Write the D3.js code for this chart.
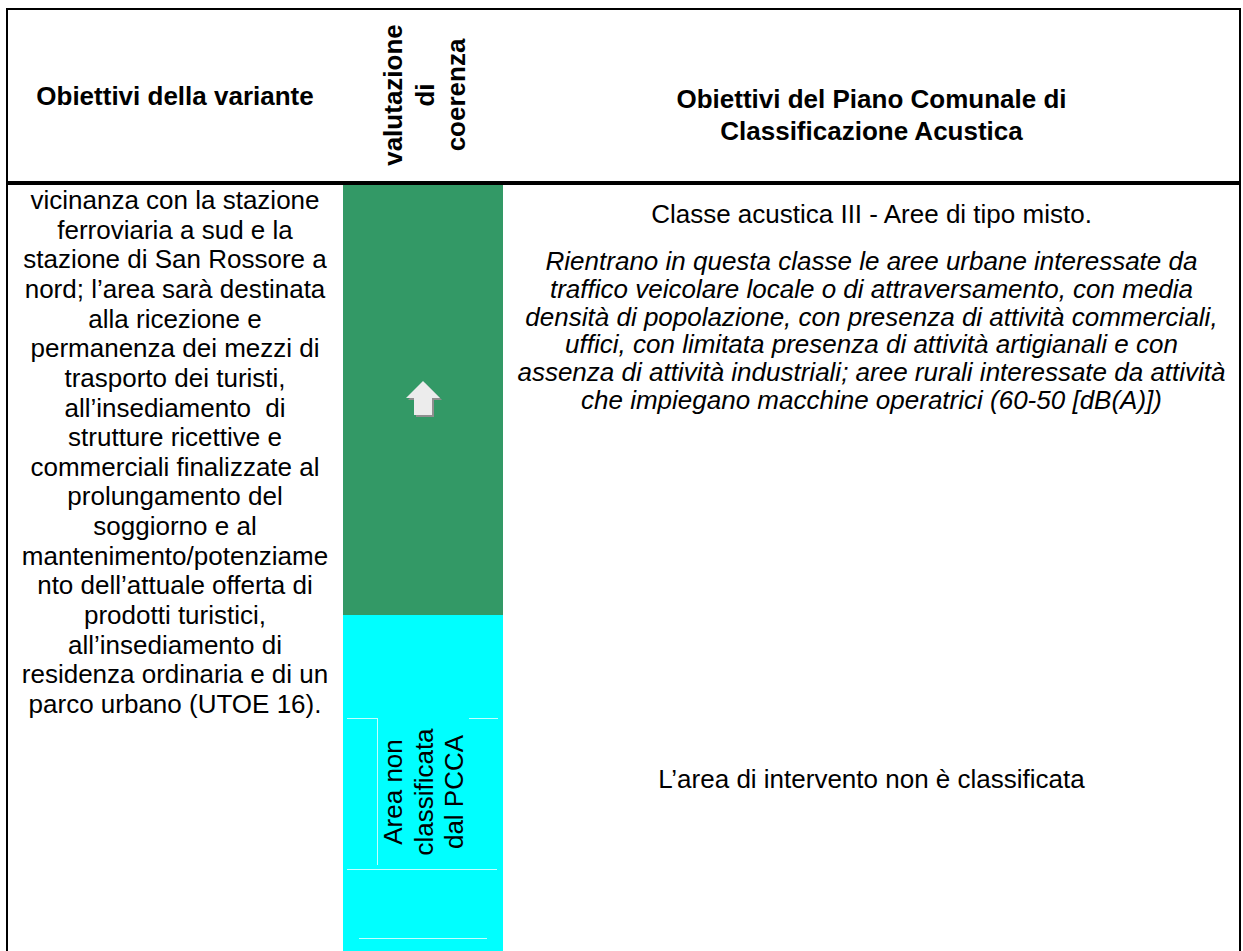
<!DOCTYPE html>
<html><head><meta charset="utf-8">
<script src="https://cdn.jsdelivr.net/npm/d3@7"></script>
<style>
html,body{margin:0;padding:0;background:#fff;}
svg{display:block;}
text{font-family:"Liberation Sans",Arial,Helvetica,sans-serif;fill:#000;white-space:pre;}
</style></head><body>
<svg id="chart" width="1243" height="951"></svg>
<script>
// ---------- data ----------
const headerLeftLines = ["Obiettivi della variante"];
const headerMidLines = ["valutazione", "di", "coerenza"];
const headerRightLines = ["Obiettivi del Piano Comunale di", "Classificazione Acustica"];

const obiettiviLines = [
  "vicinanza con la stazione",
  "ferroviaria a sud e la",
  "stazione di San Rossore a",
  "nord; l’area sarà destinata",
  "alla ricezione e",
  "permanenza dei mezzi di",
  "trasporto dei turisti,",
  "all’insediamento  di",
  "strutture ricettive e",
  "commerciali finalizzate al",
  "prolungamento del",
  "soggiorno e al",
  "mantenimento/potenziame",
  "nto dell’attuale offerta di",
  "prodotti turistici,",
  "all’insediamento di",
  "residenza ordinaria e di un",
  "parco urbano (UTOE 16)."
];

const evaluationRows = ["coerente", "non classificata"];
const evaluationLabels = [[], ["Area non", "classificata", "dal PCCA"]];

const pccaTitle = "Classe acustica III - Aree di tipo misto.";
const pccaDescription = [
  "Rientrano in questa classe le aree urbane interessate da",
  "traffico veicolare locale o di attraversamento, con media",
  "densità di popolazione, con presenza di attività commerciali,",
  "uffici, con limitata presenza di attività artigianali e con",
  "assenza di attività industriali; aree rurali interessate da attività",
  "che impiegano macchine operatrici (60-50 [dB(A)])"
];
const pccaNote = "L’area di intervento non è classificata";

// ---------- layout ----------
const svg = d3.select("#chart");
const FS = 26;
const colL = 7, colM0 = 343, colM1 = 503, colR = 1240;
const headTop = 9, headBot = 183;
const rowColors = {"coerente": "#339966", "non classificata": "#00ffff"};
const rowY = d3.scaleOrdinal().domain(evaluationRows).range([[185, 615], [615, 951]]);

// evaluation column bands
svg.selectAll("rect.band").data(evaluationRows).join("rect")
  .attr("class", "band")
  .attr("x", colM0).attr("width", colM1 - colM0)
  .attr("y", d => rowY(d)[0]).attr("height", d => rowY(d)[1] - rowY(d)[0])
  .attr("fill", d => rowColors[d]);

// faint text-box outline inside the cyan cell
const faint = svg.append("g").attr("stroke", "#c4ffff").attr("stroke-width", 1).attr("fill", "none");
[[347, 718.5, 377, 718.5], [469, 718.5, 498, 718.5], [377.5, 718, 377.5, 865],
 [347, 869.5, 497, 869.5], [359, 938.5, 487, 938.5]].forEach(l =>
  faint.append("line").attr("x1", l[0]).attr("y1", l[1]).attr("x2", l[2]).attr("y2", l[3]));

// arrow (up) in the green cell
const arrowCx = (colM0 + colM1) / 2, arrowCy = (rowY("coerente")[0] + rowY("coerente")[1]) / 2 - 2;
const arrowPts = [[0, -17], [17, 0], [9, 0], [9, 17], [-9, 17], [-9, 0], [-17, 0]];
const line = d3.line();
svg.append("path")
  .attr("d", line(arrowPts.map(p => [arrowCx + p[0] + 2, arrowCy + p[1] + 2])) + "Z")
  .attr("fill", "#8f8f8f");
svg.append("path")
  .attr("d", line(arrowPts.map(p => [arrowCx + p[0], arrowCy + p[1]])) + "Z")
  .attr("fill", "#ececec");

// borders
const borders = svg.append("g").attr("stroke", "#000");
borders.append("line").attr("x1", 6).attr("x2", 1241).attr("y1", headTop).attr("y2", headTop).attr("stroke-width", 2);
borders.append("line").attr("x1", 6).attr("x2", 1241).attr("y1", headBot).attr("y2", headBot).attr("stroke-width", 4);
borders.append("line").attr("x1", colL).attr("x2", colL).attr("y1", 8).attr("y2", 951).attr("stroke-width", 2);
borders.append("line").attr("x1", colR).attr("x2", colR).attr("y1", 8).attr("y2", 951).attr("stroke-width", 2);

const off = 8; // center -> baseline offset

// header left
svg.selectAll("text.hl").data(headerLeftLines).join("text")
  .attr("class", "hl").attr("x", (colL + colM0) / 2).attr("y", 97 + off)
  .attr("text-anchor", "middle").attr("font-size", FS).attr("font-weight", "bold").text(d => d);

// header middle (rotated)
const midX = d3.scaleLinear().domain([0, headerMidLines.length - 1]).range([402, 465]);
svg.selectAll("text.hm").data(headerMidLines).join("text")
  .attr("class", "hm")
  .attr("transform", (d, i) => `translate(${midX(i)},95) rotate(-90)`)
  .attr("text-anchor", "middle").attr("font-size", FS).attr("font-weight", "bold").text(d => d);

// header right
const hrY = d3.scaleLinear().domain([0, 1]).range([100, 132]);
svg.selectAll("text.hr").data(headerRightLines).join("text")
  .attr("class", "hr").attr("x", (colM1 + colR) / 2).attr("y", (d, i) => hrY(i) + off)
  .attr("text-anchor", "middle").attr("font-size", FS).attr("font-weight", "bold").text(d => d);

// left column body
const leftY = d3.scaleLinear().domain([0, obiettiviLines.length - 1]).range([201, 705]);
svg.selectAll("text.ob").data(obiettiviLines).join("text")
  .attr("class", "ob").attr("x", (colL + colM0) / 2).attr("y", (d, i) => leftY(i) + off)
  .attr("text-anchor", "middle").attr("font-size", FS).text(d => d);

// rotated label in cyan cell
const lblX = d3.scaleLinear().domain([0, 2]).range([402, 463]);
svg.selectAll("text.ev").data(evaluationLabels[1]).join("text")
  .attr("class", "ev")
  .attr("transform", (d, i) => `translate(${lblX(i)},792) rotate(-90)`)
  .attr("text-anchor", "middle").attr("font-size", FS).text(d => d);

// right column
const rcx = (colM1 + colR) / 2;
svg.append("text").attr("x", rcx).attr("y", 215 + off).attr("text-anchor", "middle")
  .attr("font-size", FS).text(pccaTitle);
const itY = d3.scaleLinear().domain([0, pccaDescription.length - 1]).range([262, 401]);
svg.selectAll("text.it").data(pccaDescription).join("text")
  .attr("class", "it").attr("x", rcx).attr("y", (d, i) => itY(i) + off)
  .attr("text-anchor", "middle").attr("font-size", FS).attr("font-style", "italic").text(d => d);
svg.append("text").attr("x", rcx).attr("y", 780 + off).attr("text-anchor", "middle")
  .attr("font-size", FS).text(pccaNote);
</script>
</body></html>
